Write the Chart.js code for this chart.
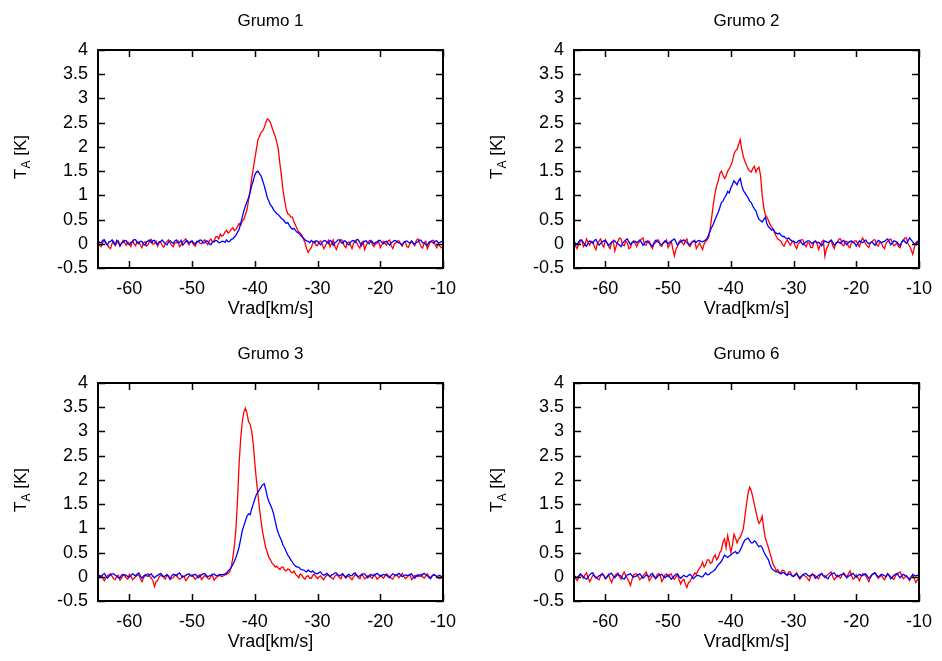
<!DOCTYPE html>
<html>
<head>
<meta charset="utf-8">
<script src="https://cdn.jsdelivr.net/npm/chart.js@4.4.1/dist/chart.umd.min.js"></script>
<style>
  html, body { margin: 0; padding: 0; background: #fff; }
  #wrap { position: relative; width: 942px; height: 661px; }
  canvas { position: absolute; }
</style>
</head>
<body>
<div id="wrap">
  <canvas id="c1" width="466" height="328" style="left:0px;top:0px"></canvas>
  <canvas id="c2" width="466" height="328" style="left:476px;top:0px"></canvas>
  <canvas id="c3" width="466" height="328" style="left:0px;top:333px"></canvas>
  <canvas id="c4" width="466" height="328" style="left:476px;top:333px"></canvas>
</div>
<script>
// velocity channels (km/s), 0.25 km/s apart
const vrad = [
  -65, -64.75, -64.5, -64.25, -64, -63.75, -63.5, -63.25, -63, -62.75, -62.5, -62.25, -62, -61.75, -61.5, -61.25, -61, -60.75, -60.5, -60.25,
  -60, -59.75, -59.5, -59.25, -59, -58.75, -58.5, -58.25, -58, -57.75, -57.5, -57.25, -57, -56.75, -56.5, -56.25, -56, -55.75, -55.5, -55.25,
  -55, -54.75, -54.5, -54.25, -54, -53.75, -53.5, -53.25, -53, -52.75, -52.5, -52.25, -52, -51.75, -51.5, -51.25, -51, -50.75, -50.5, -50.25,
  -50, -49.75, -49.5, -49.25, -49, -48.75, -48.5, -48.25, -48, -47.75, -47.5, -47.25, -47, -46.75, -46.5, -46.25, -46, -45.75, -45.5, -45.25,
  -45, -44.75, -44.5, -44.25, -44, -43.75, -43.5, -43.25, -43, -42.75, -42.5, -42.25, -42, -41.75, -41.5, -41.25, -41, -40.75, -40.5, -40.25,
  -40, -39.75, -39.5, -39.25, -39, -38.75, -38.5, -38.25, -38, -37.75, -37.5, -37.25, -37, -36.75, -36.5, -36.25, -36, -35.75, -35.5, -35.25,
  -35, -34.75, -34.5, -34.25, -34, -33.75, -33.5, -33.25, -33, -32.75, -32.5, -32.25, -32, -31.75, -31.5, -31.25, -31, -30.75, -30.5, -30.25,
  -30, -29.75, -29.5, -29.25, -29, -28.75, -28.5, -28.25, -28, -27.75, -27.5, -27.25, -27, -26.75, -26.5, -26.25, -26, -25.75, -25.5, -25.25,
  -25, -24.75, -24.5, -24.25, -24, -23.75, -23.5, -23.25, -23, -22.75, -22.5, -22.25, -22, -21.75, -21.5, -21.25, -21, -20.75, -20.5, -20.25,
  -20, -19.75, -19.5, -19.25, -19, -18.75, -18.5, -18.25, -18, -17.75, -17.5, -17.25, -17, -16.75, -16.5, -16.25, -16, -15.75, -15.5, -15.25,
  -15, -14.75, -14.5, -14.25, -14, -13.75, -13.5, -13.25, -13, -12.75, -12.5, -12.25, -12, -11.75, -11.5, -11.25, -11, -10.75, -10.5, -10.25,
  -10
];

const xTicks = [-60, -50, -40, -30, -20, -10];
const yTicks = [-0.5, 0, 0.5, 1, 1.5, 2, 2.5, 3, 3.5, 4];

// Grumo 1
const g1Red = [
  0.04, -0.03, -0.06, 0.02, 0.08, 0.03, -0.02, -0.08, -0.1, 0.01, 0.05, -0.04, 0.02, 0.06, -0.05, 0.0, 0.07, 0.02, -0.03, 0.04,
  0.01, -0.06, 0.06, 0.0, -0.04, 0.05, 0.03, -0.02, -0.08, 0.02, 0.04, -0.05, -0.02, 0.06, 0.09, -0.01, 0.0, 0.05, -0.05, 0.02,
  0.03, -0.04, -0.07, 0.01, 0.05, 0.08, 0.02, -0.03, -0.06, 0.02, 0.02, 0.06, -0.06, -0.02, 0.04, 0.07, 0.1, 0.03, -0.02, 0.05,
  0.04, -0.02, -0.05, 0.03, 0.06, 0.01, 0.0, 0.05, 0.08, 0.02, -0.02, 0.06, 0.1, 0.04, 0.06, 0.14, 0.15, 0.1, 0.2, 0.16,
  0.18, 0.24, 0.28, 0.22, 0.25, 0.3, 0.33, 0.27, 0.3, 0.36, 0.42, 0.38, 0.48, 0.5, 0.6, 0.7, 0.9, 1.1, 1.35, 1.55,
  1.75, 1.95, 2.15, 2.22, 2.3, 2.33, 2.4, 2.5, 2.58, 2.55, 2.5, 2.4, 2.3, 2.22, 2.1, 1.95, 1.65, 1.4, 1.1, 0.9,
  0.72, 0.62, 0.6, 0.55, 0.55, 0.45, 0.38, 0.3, 0.25, 0.22, 0.18, 0.1, 0.02, -0.1, -0.18, -0.12, -0.08, 0.02, 0.05, -0.03,
  -0.04, 0.04, 0.06, -0.02, -0.1, -0.04, 0.02, 0.07, -0.06, 0.01, 0.08, -0.05, -0.12, -0.02, 0.03, 0.09, 0.05, -0.04, -0.08, 0.02,
  0.04, -0.03, -0.1, 0.01, 0.06, 0.02, -0.05, -0.09, 0.02, 0.05, -0.12, -0.04, 0.03, 0.06, 0.07, -0.02, -0.06, 0.0, 0.01, 0.05,
  -0.08, -0.02, 0.05, 0.01, -0.03, 0.06, 0.08, -0.04, -0.1, 0.0, 0.02, 0.06, 0.06, -0.01, -0.05, 0.03, 0.03, -0.06, -0.07, 0.02,
  0.05, 0.0, -0.04, 0.07, 0.1, 0.02, -0.06, -0.09, 0.02, 0.05, -0.1, -0.03, 0.04, 0.07, 0.07, -0.02, -0.08, 0.0, -0.05, -0.08,
  -0.1
];
const g1Blue = [
  0.06, 0.03, 0.02, 0.07, 0.08, 0.01, -0.03, 0.04, 0.05, 0.08, 0.01, -0.02, 0.07, 0.03, -0.04, 0.02, 0.03, 0.07, 0.06, 0.0,
  -0.02, 0.03, 0.04, 0.09, 0.08, 0.02, 0.0, 0.05, 0.05, -0.01, -0.03, 0.04, 0.06, 0.08, 0.02, 0.06, 0.07, 0.01, -0.01, 0.04,
  0.05, 0.08, 0.03, 0.0, -0.02, 0.04, 0.06, 0.03, 0.01, 0.06, 0.08, 0.02, 0.03, 0.07, -0.03, 0.01, 0.05, 0.06, 0.02, 0.04,
  0.06, 0.02, -0.01, 0.05, 0.04, 0.08, 0.07, 0.01, 0.02, 0.06, 0.05, 0.0, -0.02, 0.04, 0.04, 0.07, 0.06, 0.02, 0.03, 0.05,
  0.05, 0.03, 0.08, 0.04, 0.05, 0.09, 0.1, 0.14, 0.18, 0.24, 0.3, 0.42, 0.55, 0.68, 0.78, 0.86, 0.95, 1.05, 1.2, 1.3,
  1.42, 1.48, 1.5, 1.45, 1.4, 1.3, 1.2, 1.08, 0.95, 0.88, 0.8, 0.76, 0.7, 0.66, 0.62, 0.6, 0.56, 0.52, 0.5, 0.46,
  0.42, 0.44, 0.38, 0.33, 0.3, 0.32, 0.27, 0.24, 0.22, 0.18, 0.15, 0.12, 0.08, 0.06, 0.05, 0.02, 0.07, 0.04, 0.02, 0.06,
  0.05, 0.01, -0.02, 0.04, 0.06, 0.07, 0.03, 0.0, 0.07, 0.05, -0.03, 0.02, 0.04, 0.08, 0.08, 0.03, 0.01, 0.06, 0.05, 0.0,
  -0.02, 0.03, 0.06, 0.07, 0.03, 0.09, 0.08, 0.02, -0.04, 0.02, 0.05, 0.06, 0.02, 0.0, 0.06, 0.04, -0.01, 0.03, 0.04, 0.07,
  0.07, 0.03, 0.0, 0.04, 0.05, 0.01, -0.03, 0.02, 0.04, 0.07, 0.06, 0.03, 0.02, 0.0, -0.02, 0.03, 0.05, 0.06, 0.03, 0.01,
  0.06, 0.02, -0.01, 0.03, 0.04, 0.08, 0.07, 0.02, 0.02, -0.02, -0.03, 0.03, 0.05, 0.04, 0.01, 0.05, 0.06, 0.02, 0.03, 0.05,
  0.04
];

// Grumo 2
const g2Red = [
  0.02, -0.05, -0.1, 0.0, 0.05, 0.08, -0.06, -0.02, 0.1, 0.03, -0.03, 0.05, 0.04, -0.06, -0.12, 0.02, 0.06, 0.1, -0.02, -0.07,
  0.08, 0.02, -0.05, -0.1, 0.03, 0.07, -0.15, -0.04, 0.05, 0.12, 0.1, -0.02, -0.04, 0.05, 0.02, -0.1, -0.08, 0.03, 0.06, 0.0,
  -0.06, 0.02, 0.04, 0.1, 0.12, -0.02, -0.03, 0.06, 0.05, -0.05, -0.1, 0.0, 0.02, 0.08, 0.07, -0.04, -0.05, 0.03, 0.03, 0.08,
  -0.08, -0.02, 0.05, -0.1, -0.25, -0.12, -0.05, 0.04, 0.08, 0.02, -0.02, 0.06, 0.1, -0.03, -0.06, 0.02, 0.04, 0.07, -0.1, -0.04,
  0.02, -0.05, -0.12, 0.0, 0.05, 0.08, 0.15, 0.35, 0.6, 0.85, 1.05, 1.2, 1.3, 1.45, 1.5, 1.42, 1.35, 1.4, 1.5, 1.55,
  1.62, 1.7, 1.85, 1.92, 1.95, 2.05, 2.15, 1.95, 1.8, 1.7, 1.62, 1.55, 1.5, 1.48, 1.55, 1.6, 1.48, 1.55, 1.58, 1.4,
  1.0, 0.75, 0.6, 0.55, 0.48, 0.4, 0.35, 0.3, 0.22, 0.15, 0.1, 0.08, 0.05, -0.02, -0.05, 0.03, 0.08, 0.02, -0.03, 0.04,
  0.05, -0.04, -0.1, 0.0, 0.03, 0.09, 0.08, -0.02, -0.06, 0.02, 0.02, -0.08, -0.08, 0.03, 0.06, 0.0, -0.12, -0.03, 0.04, 0.07,
  -0.26, -0.1, -0.05, 0.05, 0.07, -0.04, -0.1, 0.02, 0.03, 0.1, 0.1, -0.02, -0.04, 0.05, 0.05, -0.06, -0.08, 0.04, 0.02, 0.06,
  0.06, 0.0, -0.06, 0.05, 0.12, 0.06, 0.0, -0.05, -0.08, 0.02, 0.04, 0.08, 0.08, -0.02, -0.05, 0.03, 0.02, -0.06, -0.1, 0.01,
  0.05, 0.08, 0.1, 0.02, -0.04, -0.02, 0.02, -0.06, -0.08, 0.04, 0.06, 0.12, 0.12, 0.0, -0.05, -0.12, -0.22, -0.08, 0.03, 0.05,
  0.02
];
const g2Blue = [
  0.05, 0.01, -0.02, 0.04, 0.08, 0.06, 0.03, -0.02, -0.05, 0.02, 0.06, 0.03, 0.01, 0.07, 0.09, 0.02, -0.03, 0.01, 0.04, 0.06,
  0.07, 0.02, -0.04, 0.0, 0.03, 0.05, 0.06, 0.02, 0.0, -0.03, -0.06, 0.01, 0.05, 0.08, 0.1, 0.04, -0.02, 0.02, 0.04, 0.05,
  0.02, 0.05, 0.08, 0.03, -0.03, 0.01, 0.05, 0.04, 0.01, -0.02, -0.05, 0.02, 0.07, 0.05, 0.03, 0.0, -0.02, 0.02, 0.06, 0.04,
  0.0, 0.03, 0.05, 0.08, 0.1, 0.04, -0.03, 0.01, 0.04, 0.06, 0.08, 0.05, 0.02, 0.0, -0.02, 0.03, 0.06, 0.05, 0.03, 0.06,
  0.07, 0.05, 0.04, 0.06, 0.08, 0.12, 0.2, 0.28, 0.35, 0.42, 0.5, 0.58, 0.65, 0.75, 0.85, 0.88, 0.95, 1.0, 1.08, 1.05,
  1.15, 1.22, 1.3, 1.26, 1.22, 1.3, 1.35, 1.2, 1.1, 1.05, 1.0, 0.95, 0.88, 0.85, 0.78, 0.72, 0.68, 0.58, 0.5, 0.48,
  0.45, 0.5, 0.55, 0.42, 0.35, 0.32, 0.28, 0.3, 0.25, 0.22, 0.2, 0.22, 0.18, 0.15, 0.15, 0.12, 0.1, 0.12, 0.08, 0.06,
  0.05, 0.03, 0.02, 0.06, 0.07, 0.02, -0.02, 0.01, 0.04, 0.06, 0.06, 0.03, 0.0, 0.04, 0.05, 0.02, 0.03, 0.0, -0.04, 0.02,
  0.06, 0.04, 0.02, 0.05, 0.08, 0.03, -0.03, 0.0, 0.04, 0.03, 0.01, 0.05, 0.07, 0.02, -0.02, 0.03, 0.05, 0.06, 0.03, 0.01,
  -0.05, 0.01, 0.06, 0.04, 0.02, 0.05, 0.08, 0.03, 0.0, 0.02, 0.04, 0.0, -0.03, 0.02, 0.07, 0.05, 0.02, 0.04, 0.05, 0.08,
  0.1, 0.04, -0.02, 0.02, 0.06, 0.05, 0.03, -0.01, -0.04, 0.03, 0.08, 0.04, 0.01, 0.06, 0.12, 0.08, 0.04, 0.0, -0.02, 0.03,
  0.05
];

// Grumo 3
const g3Red = [
  -0.05, -0.01, 0.03, -0.03, -0.08, -0.02, 0.02, 0.04, 0.06, 0.01, -0.04, -0.06, 0.01, 0.03, -0.07, -0.03, 0.04, 0.02, -0.02, -0.05,
  0.05, 0.01, -0.06, -0.03, 0.0, 0.03, 0.04, -0.04, -0.1, -0.02, 0.02, 0.05, 0.06, 0.01, -0.03, -0.08, -0.2, -0.1, -0.08, 0.0,
  0.03, 0.01, -0.02, -0.05, 0.05, 0.02, -0.06, -0.03, -0.02, 0.03, 0.04, -0.02, -0.05, -0.03, 0.02, 0.0, -0.08, -0.04, 0.01, 0.03,
  0.04, -0.01, -0.05, -0.02, 0.02, 0.04, -0.06, -0.02, 0.03, 0.0, -0.03, -0.05, 0.01, 0.03, -0.07, -0.03, 0.0, 0.02, 0.03, 0.0,
  0.02, 0.04, 0.05, 0.07, 0.1, 0.2, 0.4, 0.65, 1.0, 1.6, 2.35, 2.85, 3.2, 3.4, 3.48, 3.38, 3.2, 3.15, 3.0, 2.75,
  2.35, 2.0, 1.7, 1.4, 1.15, 0.92, 0.75, 0.6, 0.5, 0.4, 0.35, 0.28, 0.25, 0.2, 0.22, 0.18, 0.15, 0.2, 0.2, 0.14,
  0.12, 0.16, 0.15, 0.1, 0.08, 0.12, 0.05, 0.02, -0.02, 0.06, 0.04, -0.02, -0.05, 0.01, 0.02, -0.03, -0.03, 0.03, 0.05, 0.0,
  -0.04, 0.0, 0.02, -0.03, -0.06, 0.0, 0.03, 0.04, 0.0, -0.02, -0.05, 0.01, 0.04, 0.02, -0.02, -0.04, 0.06, 0.02, -0.03, 0.01,
  0.01, -0.03, -0.06, 0.0, 0.04, 0.03, -0.02, -0.04, 0.05, 0.02, -0.04, -0.02, 0.02, 0.03, -0.01, -0.03, 0.05, 0.01, -0.05, -0.02,
  0.03, 0.0, -0.03, 0.02, 0.06, 0.03, 0.0, -0.03, -0.05, 0.01, 0.04, 0.02, -0.02, 0.03, 0.07, 0.01, -0.04, -0.01, 0.02, 0.04,
  -0.06, -0.02, 0.03, 0.01, 0.0, 0.04, 0.05, 0.0, -0.03, 0.02, 0.06, 0.01, -0.02, 0.02, 0.04, 0.03, 0.01, -0.02, -0.04, -0.01,
  0.02
];
const g3Blue = [
  0.05, 0.02, 0.0, 0.04, 0.07, 0.02, -0.03, 0.01, 0.04, 0.06, 0.06, 0.03, 0.01, -0.02, -0.02, 0.03, 0.05, 0.04, 0.03, 0.0,
  -0.01, 0.03, 0.06, 0.04, 0.02, 0.06, 0.08, 0.02, -0.03, 0.01, 0.04, 0.02, 0.01, 0.04, 0.06, 0.01, -0.02, 0.01, 0.03, 0.05,
  0.07, 0.03, 0.0, 0.02, 0.04, 0.0, -0.04, 0.02, 0.05, 0.04, 0.02, 0.06, 0.08, 0.03, -0.01, 0.01, 0.03, 0.05, 0.06, 0.02,
  0.01, 0.04, 0.05, 0.02, -0.02, 0.01, 0.04, 0.06, 0.07, 0.03, 0.0, 0.02, 0.03, 0.05, 0.06, 0.03, 0.02, 0.04, 0.05, 0.04,
  0.05, 0.06, 0.08, 0.12, 0.15, 0.2, 0.25, 0.32, 0.4, 0.5, 0.62, 0.78, 0.95, 1.05, 1.15, 1.25, 1.3, 1.28, 1.4, 1.5,
  1.6, 1.7, 1.75, 1.8, 1.85, 1.9, 1.92, 1.8, 1.65, 1.55, 1.48, 1.4, 1.3, 1.15, 1.0, 0.9, 0.82, 0.75, 0.65, 0.6,
  0.52, 0.45, 0.4, 0.35, 0.3, 0.25, 0.22, 0.2, 0.2, 0.16, 0.15, 0.14, 0.12, 0.1, 0.14, 0.11, 0.1, 0.12, 0.08, 0.07,
  0.06, 0.09, 0.1, 0.05, 0.03, 0.05, 0.07, 0.03, 0.0, 0.04, 0.05, 0.08, 0.08, 0.04, 0.02, 0.04, 0.06, 0.02, -0.01, 0.03,
  0.05, 0.02, 0.03, 0.06, 0.08, 0.03, 0.0, 0.02, 0.04, 0.06, 0.06, 0.02, -0.02, 0.01, 0.05, 0.03, 0.02, 0.05, 0.07, 0.04,
  0.01, 0.03, 0.05, 0.04, 0.03, 0.0, -0.02, 0.03, 0.06, 0.04, 0.02, 0.05, 0.07, 0.03, 0.0, 0.02, 0.04, 0.03, 0.03, 0.05,
  0.06, 0.01, -0.03, 0.02, 0.04, 0.02, 0.01, 0.05, 0.07, 0.04, 0.02, -0.01, -0.04, 0.01, 0.05, 0.03, 0.0, 0.02, 0.03, 0.0,
  -0.02
];

// Grumo 6
const g6Red = [
  0.02, -0.03, -0.08, 0.0, 0.05, 0.01, -0.03, 0.04, 0.08, -0.02, -0.1, -0.04, 0.03, 0.02, 0.0, -0.04, -0.06, 0.02, 0.07, 0.03,
  -0.04, 0.01, 0.05, -0.05, -0.12, -0.03, 0.02, 0.06, 0.08, 0.0, -0.05, 0.04, 0.1, 0.02, -0.03, -0.1, -0.18, -0.06, 0.04, 0.06,
  0.06, 0.0, -0.06, -0.02, 0.02, 0.06, 0.1, 0.02, -0.08, -0.03, 0.03, 0.0, -0.02, 0.04, 0.07, 0.02, -0.1, -0.04, 0.04, 0.06,
  0.0, 0.04, 0.06, -0.02, -0.05, 0.0, 0.04, -0.06, -0.15, -0.08, -0.05, -0.15, -0.22, -0.12, -0.1, -0.02, 0.02, 0.08, 0.05, 0.12,
  0.18, 0.22, 0.3, 0.2, 0.25, 0.35, 0.35, 0.28, 0.3, 0.4, 0.45, 0.35, 0.4, 0.5, 0.55, 0.72, 0.78, 0.6, 0.85, 0.7,
  0.5, 0.65, 0.88, 0.8, 0.7, 0.78, 0.82, 0.9, 1.0, 1.25, 1.5, 1.72, 1.85, 1.78, 1.65, 1.5, 1.35, 1.2, 1.1, 1.15,
  1.25, 1.0, 0.8, 0.7, 0.6, 0.48, 0.38, 0.25, 0.2, 0.12, 0.15, 0.08, 0.1, 0.14, 0.12, 0.05, 0.05, 0.1, 0.1, 0.02,
  0.02, 0.05, 0.08, 0.0, -0.05, 0.0, 0.04, 0.02, 0.0, -0.04, -0.08, 0.01, 0.06, 0.04, 0.02, -0.02, -0.04, 0.03, 0.07, 0.02,
  -0.02, 0.02, 0.05, 0.08, 0.1, 0.0, -0.06, -0.02, 0.03, 0.0, -0.03, 0.04, 0.08, 0.03, 0.0, 0.06, 0.12, 0.02, -0.05, -0.02,
  0.04, -0.02, -0.08, 0.0, 0.06, 0.05, 0.02, -0.04, -0.1, -0.02, 0.05, 0.07, 0.08, 0.02, -0.03, 0.0, 0.03, -0.02, -0.06, 0.01,
  0.07, 0.03, 0.0, -0.03, -0.05, 0.02, 0.06, 0.08, 0.1, 0.02, -0.04, -0.01, 0.02, -0.03, -0.08, -0.02, 0.05, -0.04, -0.12, -0.06,
  -0.03
];
const g6Blue = [
  0.03, 0.0, -0.02, 0.02, 0.06, 0.03, 0.0, -0.03, -0.05, 0.0, 0.04, 0.07, 0.08, 0.02, -0.03, -0.01, 0.02, 0.04, 0.05, 0.02,
  -0.04, -0.01, 0.03, 0.06, 0.07, 0.02, -0.02, 0.02, 0.05, 0.03, 0.01, -0.03, -0.05, 0.0, 0.04, 0.05, 0.06, 0.02, -0.01, 0.01,
  0.02, 0.04, 0.06, 0.02, -0.03, 0.0, 0.04, 0.02, 0.0, 0.05, 0.07, 0.02, -0.04, -0.01, 0.03, 0.04, 0.05, 0.01, -0.02, 0.01,
  0.04, 0.0, -0.05, -0.02, 0.02, 0.05, 0.06, 0.01, -0.03, 0.0, 0.03, 0.01, 0.0, 0.03, 0.05, 0.02, -0.04, -0.01, 0.02, 0.03,
  0.02, 0.0, 0.0, 0.04, 0.08, 0.04, 0.05, 0.08, 0.1, 0.12, 0.15, 0.2, 0.25, 0.28, 0.32, 0.38, 0.45, 0.42, 0.4, 0.43,
  0.45, 0.48, 0.5, 0.52, 0.48, 0.5, 0.55, 0.62, 0.7, 0.76, 0.78, 0.8, 0.75, 0.7, 0.7, 0.74, 0.72, 0.66, 0.62, 0.64,
  0.6, 0.52, 0.45, 0.4, 0.35, 0.25, 0.18, 0.14, 0.12, 0.1, 0.1, 0.08, 0.06, 0.09, 0.08, 0.05, 0.03, 0.06, 0.05, 0.02,
  0.0, 0.03, 0.06, 0.02, -0.02, 0.01, 0.04, 0.06, 0.07, 0.03, 0.01, 0.03, 0.05, 0.02, -0.03, 0.0, 0.03, 0.05, 0.06, 0.02,
  0.02, -0.02, -0.04, 0.02, 0.05, 0.07, 0.08, 0.03, 0.0, 0.02, 0.04, 0.05, 0.06, 0.02, -0.02, 0.01, 0.03, 0.05, 0.07, 0.03,
  -0.01, 0.02, 0.05, 0.03, 0.02, 0.05, 0.06, 0.02, -0.03, 0.0, 0.04, 0.06, 0.08, 0.03, 0.0, 0.02, 0.05, 0.04, 0.02, 0.0,
  0.06, 0.02, -0.04, -0.01, 0.03, 0.05, 0.07, 0.02, -0.02, 0.02, 0.05, 0.03, 0.01, -0.02, -0.05, 0.0, 0.04, 0.03, 0.02, 0.03,
  0.04
];

const FONT = "'Liberation Sans', Arial, Helvetica, sans-serif";

// frame with inward ticks on all sides + titles (gnuplot look)
const framePlugin = {
  id: 'frame',
  afterDraw(chart, args, opts) {
    const { ctx, chartArea: a, scales } = chart;
    ctx.save();
    ctx.strokeStyle = '#000';
    ctx.lineWidth = 1.5;
    ctx.beginPath();
    xTicks.forEach(v => {
      const px = Math.round(scales.x.getPixelForValue(v)) + 0.5;
      ctx.moveTo(px, a.bottom); ctx.lineTo(px, a.bottom - 7);
      ctx.moveTo(px, a.top); ctx.lineTo(px, a.top + 7);
    });
    yTicks.forEach(v => {
      const py = Math.round(scales.y.getPixelForValue(v)) + 0.5;
      ctx.moveTo(a.left, py); ctx.lineTo(a.left + 7, py);
      ctx.moveTo(a.right, py); ctx.lineTo(a.right - 7, py);
    });
    ctx.stroke();
    ctx.lineWidth = 2;
    ctx.strokeRect(a.left, a.top, a.right - a.left, a.bottom - a.top);

    ctx.fillStyle = '#000';
    ctx.textAlign = 'center';
    ctx.textBaseline = 'middle';
    const cx = (a.left + a.right) / 2;
    ctx.font = '17px ' + FONT;
    ctx.fillText(opts.title, cx, 21);
    ctx.font = '18px ' + FONT;
    ctx.fillText('Vrad[km/s]', cx, 309);

    // y label: T with subscript A, then [K]
    ctx.translate(21, (a.top + a.bottom) / 2 - 2);
    ctx.rotate(-Math.PI / 2);
    ctx.textAlign = 'left';
    ctx.font = '17px ' + FONT;
    const wT = ctx.measureText('T').width;
    const wK = ctx.measureText(' [K]').width;
    ctx.font = '12px ' + FONT;
    const wA = ctx.measureText('A').width;
    const x0 = -(wT + wA + wK) / 2;
    ctx.font = '17px ' + FONT;
    ctx.fillText('T', x0, 0);
    ctx.font = '12px ' + FONT;
    ctx.fillText('A', x0 + wT, 6);
    ctx.font = '17px ' + FONT;
    ctx.fillText(' [K]', x0 + wT + wA, 0);
    ctx.restore();
  }
};

function toPoints(values) {
  return vrad.map((v, i) => ({ x: v, y: values[i] }));
}

function makeChart(id, title, red, blue) {
  const ctx = document.getElementById(id).getContext('2d');
  return new Chart(ctx, {
    type: 'line',
    data: {
      datasets: [
        // blue first so it is drawn on top
        { data: toPoints(blue), borderColor: '#0000ff', borderWidth: 1.3, pointRadius: 0, tension: 0 },
        { data: toPoints(red), borderColor: '#ff0000', borderWidth: 1.3, pointRadius: 0, tension: 0 }
      ]
    },
    options: {
      responsive: false,
      animation: false,
      devicePixelRatio: 1,
      layout: { padding: { top: 50, right: 16, left: 0, bottom: 0 } },
      plugins: {
        legend: { display: false },
        tooltip: { enabled: false },
        frame: { title: title }
      },
      scales: {
        x: {
          type: 'linear', min: -65, max: -10,
          grid: { display: false, drawTicks: false },
          border: { display: false },
          afterBuildTicks: s => { s.ticks = xTicks.map(v => ({ value: v })); },
          afterFit: s => { s.height = 60; },
          ticks: { color: '#000', font: { size: 18, family: FONT }, padding: 10, maxRotation: 0,
                   autoSkip: false, callback: v => String(v) }
        },
        y: {
          type: 'linear', min: -0.5, max: 4,
          grid: { display: false, drawTicks: false },
          border: { display: false },
          afterBuildTicks: s => { s.ticks = yTicks.map(v => ({ value: v })); },
          afterFit: s => { s.width = 98; },
          ticks: { color: '#000', font: { size: 18, family: FONT }, padding: 10,
                   autoSkip: false, callback: v => String(v) }
        }
      }
    },
    plugins: [framePlugin]
  });
}

makeChart('c1', 'Grumo 1', g1Red, g1Blue);
makeChart('c2', 'Grumo 2', g2Red, g2Blue);
makeChart('c3', 'Grumo 3', g3Red, g3Blue);
makeChart('c4', 'Grumo 6', g6Red, g6Blue);
</script>
</body>
</html>
